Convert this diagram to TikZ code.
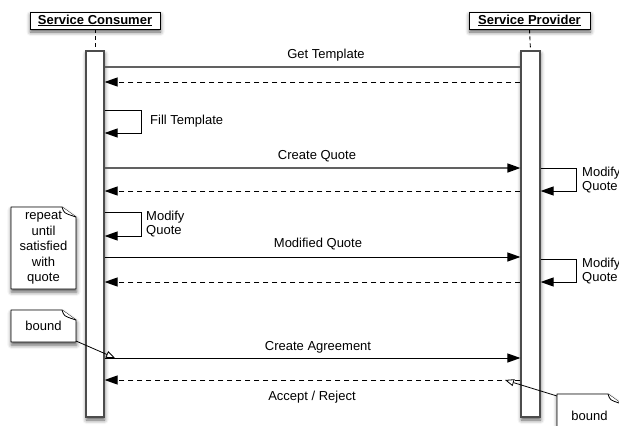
\documentclass[tikz,border=0pt]{standalone}
\usepackage{fontspec}
\setmainfont{Liberation Sans}
\usetikzlibrary{arrows.meta,shadows.blur}
\definecolor{barline}{gray}{0.3}
\definecolor{msggray}{gray}{0.38}
\begin{document}
\begin{tikzpicture}[x=1pt,y=-1pt,
  font=\fontsize{13}{15.5}\selectfont,
  softshadow/.style={blur shadow={shadow xshift=0.5pt,shadow yshift=-3pt,shadow blur radius=4pt,shadow opacity=65}},
  header/.style={draw=black,line width=0.9pt,fill=white,minimum width=130pt,minimum height=17pt,
    inner sep=0pt,softshadow,font=\fontsize{13}{15}\selectfont\bfseries},
  actbar/.style={draw=barline,line width=1.2pt,fill=white,inner sep=0pt,minimum height=366pt,softshadow},
  lifeline/.style={draw=black,line width=0.9pt,dash pattern=on 4pt off 3pt},
  msg/.style={draw=black,line width=1pt,-{Triangle[length=13pt,width=9pt]}},
  msgplain/.style={draw=msggray,line width=1.5pt},
  msgstrong/.style={draw=msggray,line width=1.5pt,-{Triangle[length=13pt,width=9pt,color=black,fill=black]}},
  reply/.style={draw=black,line width=1pt,dash pattern=on 5pt off 4pt,-{Triangle[length=13pt,width=9pt]}},
  selfcall/.style={draw=black,line width=1pt,-{Triangle[length=13pt,width=9pt]}},
  notelink/.style={draw=black,line width=0.8pt,-{Triangle[open,length=9pt,width=7pt,fill=white]}},
  lbl/.style={inner sep=0pt},
  notebox/.style={inner sep=0pt,align=center}
]
\useasboundingbox (0,0) rectangle (619,426);

% lifeline headers
\node[header] (cons) at (95,20.5) {\underline{Service Consumer}};
\node[header,minimum width=121pt] (prov) at (529.5,20.5) {\underline{Service Provider}};

% activation bars
\node[actbar,minimum width=18pt] (cbar) at (95,234) {};
\node[actbar,minimum width=19pt] (pbar) at (530.5,234) {};

\draw[lifeline] (cons.south) -- (cbar.north);
\draw[lifeline] (prov.south) -- (pbar.north);

% notes with a folded corner
\newcommand{\dognote}[5]{%
  % #1 left, #2 top, #3 right, #4 bottom, #5 name
  \fill[white,softshadow] (#1,#2) -- ({#3-14},#2) -- (#3,{#2+10}) -- (#3,#4) -- (#1,#4) -- cycle;
  \draw[black,line width=0.8pt,line join=round] (#1,#2) -- ({#3-14},#2) -- (#3,{#2+10}) -- (#3,#4) -- (#1,#4) -- cycle;
  \draw[black,line width=0.8pt,fill=white,line join=round] ({#3-14},#2) .. controls ({#3-12},{#2+6}) .. ({#3-3},{#2+9}) -- (#3,{#2+10});
  \coordinate (#5) at ({(#1+#3)/2},{(#2+#4)/2});
}
\dognote{11}{207}{76}{289}{repeatc}
\node[notebox] (repeatnote) at (repeatc) {repeat\\until\\satisfied\\with\\quote};
\dognote{11}{310}{76}{342}{lboundc}
\node[notebox] (lbound) at (lboundc) {bound};
\dognote{557}{394}{622}{428}{rboundc}
\node[notebox] (rbound) at ([yshift=-5pt]rboundc) {bound};

% messages
\draw[msgplain] (cbar.east |- 0,67) -- (pbar.west |- 0,67);
\node[lbl] (lgt) at (326,55) {Get Template};
\draw[reply] (pbar.west |- 0,82) -- (cbar.east |- 0,82);

\draw[selfcall] (cbar.east |- 0,110) -- (141,110) -- (141,133) -- (cbar.east |- 0,133);
\node[lbl,anchor=west] (lfill) at (150,121) {Fill Template};

\draw[msgstrong] (cbar.east |- 0,168) -- (pbar.west |- 0,168);
\node[lbl] (lcq) at (317,156) {Create Quote};
\draw[selfcall] (pbar.east |- 0,168) -- (576,168) -- (576,191) -- (pbar.east |- 0,191);
\node[lbl,anchor=west,align=left,font=\fontsize{13}{14}\selectfont] (lmq1) at (582,180) {Modify\\Quote};
\draw[reply] (pbar.west |- 0,191) -- (cbar.east |- 0,191);

\draw[selfcall] (cbar.east |- 0,212) -- (141,212) -- (141,236) -- (cbar.east |- 0,236);
\node[lbl,anchor=west,align=left,font=\fontsize{13}{14}\selectfont] (lmqc) at (146,224) {Modify\\Quote};

\draw[msg] (cbar.east |- 0,257) -- (pbar.west |- 0,257);
\node[lbl] (lmod) at (318,244) {Modified Quote};
\draw[selfcall] (pbar.east |- 0,259) -- (576,259) -- (576,282) -- (pbar.east |- 0,282);
\node[lbl,anchor=west,align=left,font=\fontsize{13}{14}\selectfont] (lmq2) at (582,271.5) {Modify\\Quote};
\draw[reply] (pbar.west |- 0,282) -- (cbar.east |- 0,282);

\draw[msg] (cbar.east |- 0,358) -- (pbar.west |- 0,358);
\node[lbl] (lca) at (318,347) {Create Agreement};
\draw[reply] (pbar.west |- 0,380) -- (cbar.east |- 0,380);
\node[lbl] (lar) at (312,397) {Accept / Reject};

% note attachments
\coordinate (lboundtip) at (115,358);
\coordinate (rboundtip) at (505,380);
\draw[notelink] (76,341) -- (lboundtip);
\draw[notelink] (557,396) -- (rboundtip);
\end{tikzpicture}
\end{document}
